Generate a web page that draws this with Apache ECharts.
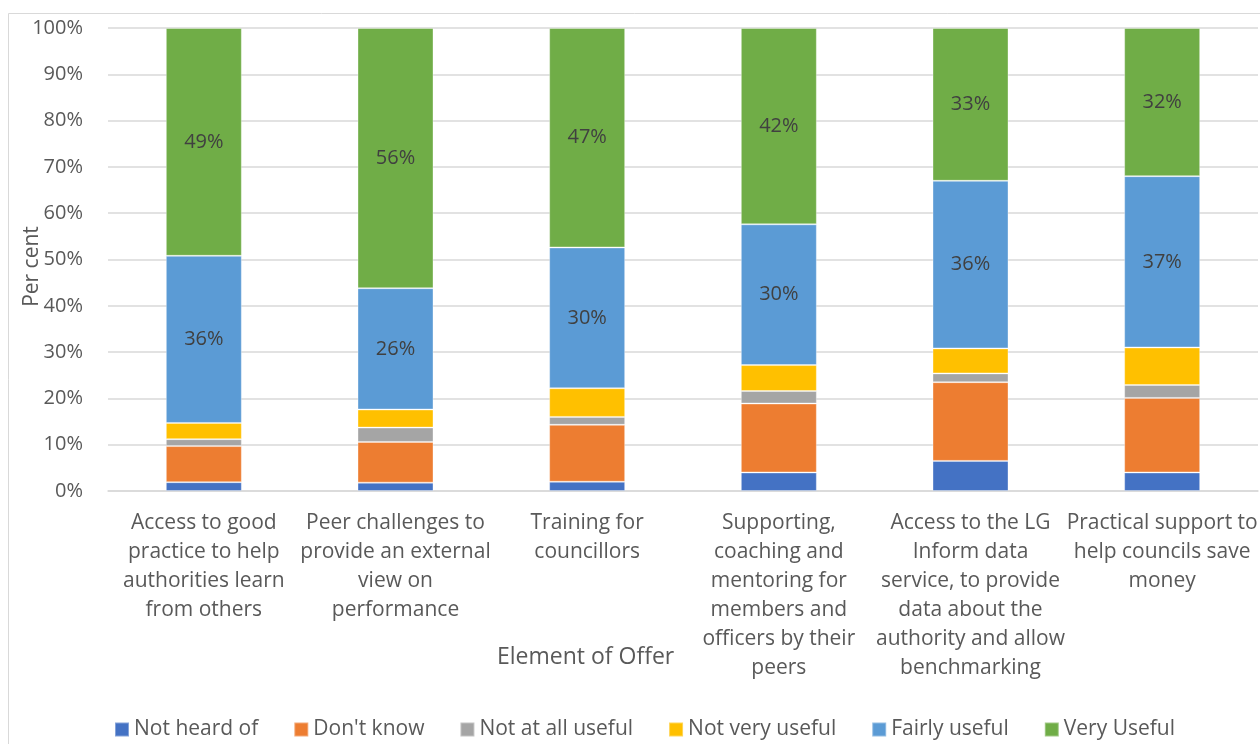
<!DOCTYPE html>
<html>
<head>
<meta charset="utf-8">
<script src="https://cdn.jsdelivr.net/npm/echarts@6/dist/echarts.min.js"></script>
<style>
  html, body { margin: 0; padding: 0; background: #fff; }
  #chart { width: 1260px; height: 744px; }
</style>
</head>
<body>
<div id="chart"></div>
<script>
// Survey responses by element of the offer (per cent of respondents)
const categories = [
  'Access to good\npractice to help\nauthorities learn\nfrom others',
  'Peer challenges to\nprovide an external\nview on\nperformance',
  'Training for\ncouncillors',
  'Supporting,\ncoaching and\nmentoring for\nmembers and\nofficers by their\npeers',
  'Access to the LG\nInform data\nservice, to provide\ndata about the\nauthority and allow\nbenchmarking',
  'Practical support to\nhelp councils save\nmoney'
];

const notHeardOf     = [1.9, 1.8, 2.0, 4.0, 6.5, 4.0];
const dontKnow       = [7.8, 8.8, 12.3, 14.9, 17.0, 16.1];
const notAtAllUseful = [1.5, 3.1, 1.7, 2.7, 1.9, 2.8];
const notVeryUseful  = [3.5, 3.9, 6.2, 5.6, 5.4, 8.1];
const fairlyUseful   = [36.1, 26.2, 30.4, 30.4, 36.2, 37.0];
const veryUseful     = [49.2, 56.2, 47.4, 42.4, 33.0, 32.0];

const seriesNames  = ['Not heard of', "Don't know", 'Not at all useful', 'Not very useful', 'Fairly useful', 'Very Useful'];
const seriesValues = [notHeardOf, dontKnow, notAtAllUseful, notVeryUseful, fairlyUseful, veryUseful];
const seriesColors = ['#4472C4', '#ED7D31', '#A5A5A5', '#FFC000', '#5B9BD5', '#70AD47'];
const labelled     = [false, false, false, false, true, true];

const FONT = 'Open Sans';
const TEXT = '#595959';

const chart = echarts.init(document.getElementById('chart'), null, { renderer: 'canvas' });

chart.setOption({
  animation: false,
  backgroundColor: '#fff',
  textStyle: { fontFamily: FONT },
  grid: { left: 108, right: 2, top: 28, bottom: 253, containLabel: false, outerBoundsMode: 'none' },
  legend: {
    bottom: 4,
    left: 114,
    padding: 0,
    itemWidth: 14,
    itemHeight: 14,
    itemGap: 35,
    icon: 'rect',
    textStyle: { fontFamily: FONT, fontSize: 21, color: TEXT },
    data: seriesNames
  },
  xAxis: {
    type: 'category',
    data: categories,
    axisTick: { show: false },
    axisLine: { show: true, lineStyle: { color: '#D9D9D9', width: 1.5 } },
    axisLabel: {
      interval: 0,
      margin: 18,
      fontFamily: FONT,
      fontSize: 21,
      lineHeight: 29,
      color: TEXT,
      verticalAlign: 'top'
    }
  },
  yAxis: {
    type: 'value',
    min: 0,
    max: 100,
    interval: 10,
    name: 'Per cent',
    nameLocation: 'middle',
    nameGap: 65,
    nameMoveOverlap: false,
    nameTextStyle: { fontFamily: FONT, fontSize: 21, color: TEXT, padding: [0, 14, 0, 0] },
    axisLine: { show: false },
    axisTick: { show: false },
    splitLine: { lineStyle: { color: '#D9D9D9', width: 1.5 } },
    axisLabel: {
      margin: 25,
      fontFamily: FONT,
      fontSize: 20,
      color: TEXT,
      formatter: v => v + '%'
    }
  },
  graphic: [
    {
      type: 'rect',
      shape: { x: 8.5, y: 13.5, width: 1300, height: 800 },
      style: { fill: 'none', stroke: '#D9D9D9', lineWidth: 1 },
      silent: true,
      z: -10
    },
    {
      type: 'text',
      left: 497,
      top: 646,
      style: { text: 'Element of Offer', fontFamily: FONT, fontSize: 23, fill: TEXT }
    }
  ],
  series: seriesNames.map((name, i) => ({
    name,
    type: 'bar',
    stack: 'total',
    barWidth: 76,
    data: seriesValues[i],
    itemStyle: { color: seriesColors[i], borderColor: 'rgba(255,255,255,0.35)', borderWidth: 1 },
    label: {
      show: labelled[i],
      position: 'inside',
      fontFamily: FONT,
      fontSize: 20,
      color: '#404040',
      formatter: p => Math.round(p.value) + '%'
    }
  }))
});
</script>
</body>
</html>
